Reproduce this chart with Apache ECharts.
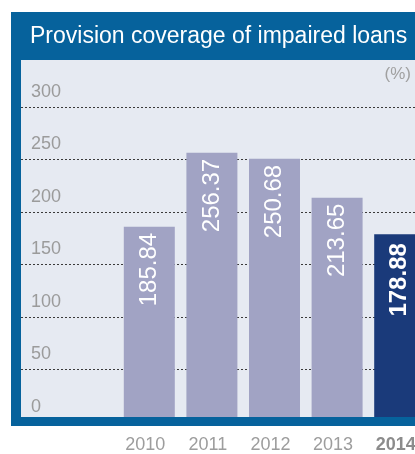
<!DOCTYPE html>
<html><head><meta charset="utf-8">
<script src="https://cdn.jsdelivr.net/npm/echarts@6/dist/echarts.min.js"></script>
<style>html,body{margin:0;padding:0;background:#fff}#c{width:415px;height:454px}</style>
</head><body><div id="c"></div>
<script>
var years = ['2010', '2011', '2012', '2013', '2014'];
var coverage = [185.84, 256.37, 250.68, 213.65, 178.88];
var yTicks = [0, 50, 100, 150, 200, 250, 300];
var titleText = 'Provision coverage of impaired loans';
var unitText = '(%)';

var FONT = 'Liberation Sans';
var chart = echarts.init(document.getElementById('c'), null, {renderer: 'canvas'});
var lastIdx = years.length - 1;

chart.setOption({
  animation: false,
  textStyle: {fontFamily: FONT},
  title: {
    text: titleText, left: 30, top: 25, padding: 0,
    textStyle: {color: '#ffffff', fontSize: 23, fontWeight: 'normal', fontFamily: FONT}
  },
  graphic: [
    {type: 'rect', z: -10, shape: {x: 11, y: 12, width: 404, height: 414}, style: {fill: '#06629c'}},
    {type: 'rect', z: -9, shape: {x: 21, y: 60, width: 394, height: 357}, style: {fill: '#e6eaf2'}},
    {type: 'rect', z: 100, shape: {x: 11, y: 417, width: 404, height: 9}, style: {fill: '#06629c'}},
    {type: 'text', z: 100, right: 4, top: 66, style: {text: unitText, fill: '#a0a0a0', font: '17px ' + FONT}}
  ],
  grid: [
    {left: 21, right: 0, top: 107, bottom: 32, outerBoundsMode: 'none', containLabel: false},
    {left: 118, width: 313, top: 107, bottom: 32, outerBoundsMode: 'none', containLabel: false}
  ],
  yAxis: [
    {
      gridIndex: 0, type: 'value', min: yTicks[0], max: yTicks[yTicks.length - 1], interval: 50,
      axisLine: {show: false}, axisTick: {show: false},
      axisLabel: {inside: true, margin: 10, color: '#9b9b9b', fontSize: 18, fontFamily: FONT,
                  verticalAlign: 'bottom', padding: [0, 0, 6, 0]},
      splitLine: {show: true, lineStyle: {color: '#3a3a3a', type: [2, 2], width: 1}}
    },
    {
      gridIndex: 1, type: 'value', min: yTicks[0], max: yTicks[yTicks.length - 1], interval: 50,
      show: false, splitLine: {show: false}
    }
  ],
  xAxis: [
    {gridIndex: 0, type: 'category', data: years, show: false},
    {
      gridIndex: 1, type: 'category',
      data: years.map(function (y, i) {
        return i === lastIdx ? {value: y, textStyle: {fontWeight: 'bold', color: '#8c8c8c'}} : y;
      }),
      axisLine: {show: false}, axisTick: {show: false},
      axisLabel: {margin: 14, color: '#9d9d9d', fontSize: 18, fontFamily: FONT, padding: [0, 8, 0, 0],
                  hideOverlap: false}
    }
  ],
  series: [{
    type: 'bar', xAxisIndex: 1, yAxisIndex: 1, barWidth: 51,
    data: coverage.map(function (v, i) {
      return i === lastIdx
        ? {value: v, itemStyle: {color: '#1a3a7a'}, label: {fontWeight: 'bold', distance: 9}}
        : {value: v, itemStyle: {color: '#a1a3c4'}};
    }),
    label: {
      show: true, position: 'insideTop', rotate: 90, align: 'right', verticalAlign: 'middle',
      distance: 6, color: '#ffffff', fontSize: 24, fontFamily: FONT,
      formatter: function (p) { return p.value.toFixed(2); }
    }
  }]
});
</script></body></html>
